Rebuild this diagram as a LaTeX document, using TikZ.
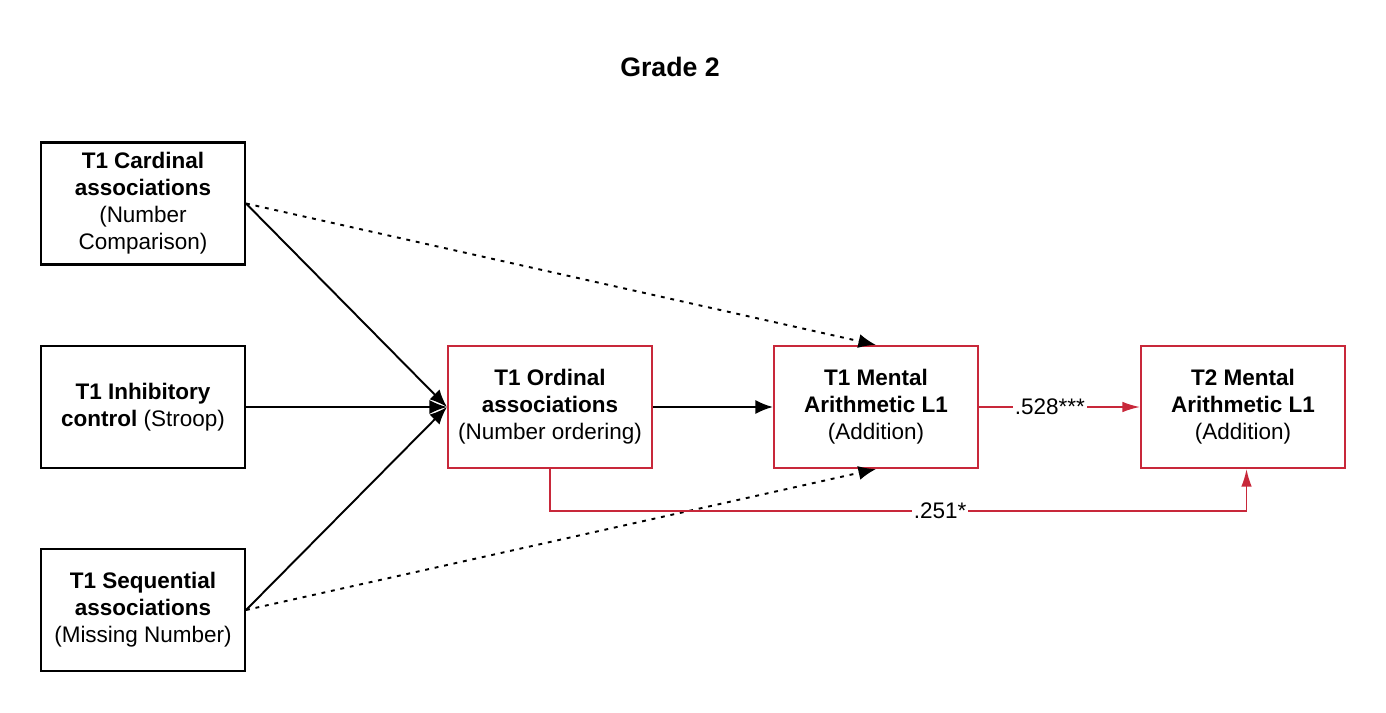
\documentclass[tikz,border=0pt]{standalone}
\usepackage{fontspec}
\setmainfont{Liberation Sans}
\usepackage{xcolor}
\usepackage{tikz}
\usetikzlibrary{arrows, arrows.meta}
\definecolor{pathred}{HTML}{C8283A}
\tikzset{
  varbox/.style={rectangle, draw, line width=1.2pt, minimum width=4.08cm, minimum height=2.44cm, align=center, inner sep=2pt, font=\fontsize{12.8}{15.3}\selectfont},
  redbox/.style={varbox, draw=pathred},
  solidarr/.style={line width=1.1pt, -{Latex[length=10pt,width=8pt]}},
  dotarr/.style={line width=1.1pt, dash pattern=on 2.2pt off 3.3pt, -{Latex[length=10pt,width=8pt]}},
  redarr/.style={draw=pathred, line width=0.9pt, -{Latex[length=10pt,width=6pt]}, color=pathred},
  coef/.style={fill=white, inner sep=1pt, text=black, font=\fontsize{12.8}{14}\selectfont}
}

\begin{document}
\begin{tikzpicture}[x=0.02cm, y=-0.02cm]
\useasboundingbox (0,0) rectangle (1386,713);
\node[font=\fontsize{15.2}{17}\selectfont\bfseries] (title) at (670,67) {Grade 2};

% predictors
\node[varbox] (card) at (143,203.5) {\textbf{T1 Cardinal}\\\textbf{associations}\\(Number\\Comparison)};
\node[varbox] (inhib) at (143,407) {\textbf{T1 Inhibitory}\\\textbf{control} (Stroop)};
\node[varbox] (seq) at (143,610) {\textbf{T1 Sequential}\\\textbf{associations}\\(Missing Number)};

% mediator and outcomes
\node[redbox] (ord) at (550,407) {\textbf{T1 Ordinal}\\\textbf{associations}\\(Number ordering)};
\node[redbox] (ma1) at (876,407) {\textbf{T1 Mental}\\\textbf{Arithmetic L1}\\(Addition)};
\node[redbox] (ma2) at (1243,407) {\textbf{T2 Mental}\\\textbf{Arithmetic L1}\\(Addition)};

\draw[solidarr] (card.east) -- (ord.west);
\draw[solidarr] (inhib.east) -- (ord.west);
\draw[solidarr] (seq.east) -- (ord.west);
\draw[solidarr] (ord.east) -- (ma1.west);

\draw[dotarr] (card.east) -- (ma1.north);
\draw[dotarr] (seq.east) -- (ma1.south);

\draw[redarr] (ma1.east) -- node[coef, pos=0.44] {.528***} (ma2.west);
\draw[redarr] (ord.south) -- ++(0,42) -| node[coef, pos=0.28] {.251*} ([xshift=2pt]ma2.south);
\end{tikzpicture}
\end{document}
